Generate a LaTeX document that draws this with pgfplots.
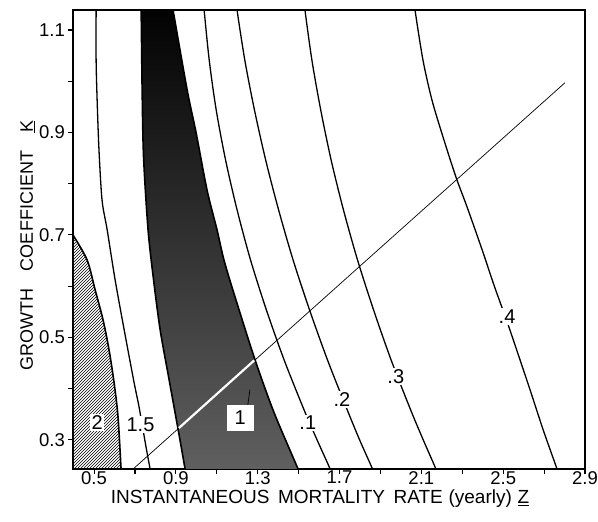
\documentclass[border=0pt]{standalone}
\usepackage{fontspec}
\setmainfont{Liberation Sans}
\usepackage{pgfplots}
\pgfplotsset{compat=1.18}
\usetikzlibrary{patterns}

\pgfplotstableread{
x y
0.725 1.16
0.730 1.139
0.735 0.983
0.742 0.852
0.764 0.710
0.791 0.612
0.823 0.515
0.867 0.417
0.911 0.320
0.945 0.243
0.950 0.23
}\darkleft
\pgfplotstableread{
x y
1.505 0.23
1.497 0.243
1.380 0.353
1.287 0.456
1.189 0.579
1.135 0.651
1.101 0.710
1.052 0.788
0.999 0.899
0.955 0.983
0.886 1.139
0.877 1.16
}\darkright

\begin{document}
\begin{tikzpicture}
\useasboundingbox (-73pt,-53pt) rectangle (525pt,469pt);
\begin{axis}[
  at={(0pt,0pt)}, anchor=south west,
  scale only axis, width=512pt, height=459pt,
  xmin=0.397, xmax=2.9, ymin=0.243, ymax=1.139,
  axis line style={line width=1.4pt},
  tick align=outside, tick pos=left,
  xtick={0.5,0.9,1.3,1.7,2.1,2.5,2.9},
  xticklabels={0.5,0.9,1.3,1.7,2.1,2.5,2.9},
  minor xtick={0.7,1.1,1.5,1.9,2.3,2.7},
  ytick={0.3,0.5,0.7,0.9,1.1},
  yticklabels={0.3,0.5,0.7,0.9,1.1},
  minor ytick={0.4,0.6,0.8,1.0},
  major tick length=5pt, minor tick length=5pt,
  tick style={line width=1.1pt, black},
  tick label style={font=\fontsize{18.5}{19}\selectfont, inner sep=0pt},
  xticklabel style={yshift=3pt},
  yticklabel style={xshift=-3pt},
]
% hatched region "2"
\addplot[draw=none, pattern=north east lines] coordinates {
(0.38,0.712) (0.397,0.700) (0.466,0.651) (0.505,0.593) (0.544,0.534) (0.573,0.476)
(0.598,0.411) (0.617,0.345) (0.632,0.243) (0.634,0.23) (0.38,0.23)} -- cycle;
\addplot[line width=1.6pt, smooth] coordinates {
(0.38,0.712) (0.397,0.700) (0.466,0.651) (0.505,0.593) (0.544,0.534) (0.573,0.476)
(0.598,0.411) (0.617,0.345) (0.632,0.243) (0.634,0.23)};

% dark region "1"
\addplot[draw=none, top color=black, middle color=black!80, bottom color=black!62] coordinates {
(0.725,1.16) (0.730,1.139) (0.735,0.983) (0.742,0.852) (0.764,0.710) (0.791,0.612)
(0.823,0.515) (0.867,0.417) (0.911,0.320) (0.945,0.243) (0.950,0.23)
(1.505,0.23) (1.497,0.243) (1.380,0.353) (1.287,0.456) (1.189,0.579) (1.135,0.651)
(1.101,0.710) (1.052,0.788) (0.999,0.899) (0.955,0.983) (0.886,1.139) (0.877,1.16)} -- cycle;
\addplot[line width=1.6pt, smooth] table {\darkleft};
\addplot[line width=1.6pt, smooth] table {\darkright};

% diagonal line
\addplot[line width=0.7pt] coordinates {(0.691,0.243) (2.802,0.997)};
\addplot[white, line width=2.2pt] coordinates {(0.915,0.323) (1.283,0.455)};
\addplot[line width=0.7pt] coordinates {(1.262,0.398) (1.243,0.343)};

% contour 1.5
\addplot[line width=1.3pt, smooth] coordinates {
(0.510,1.16) (0.510,1.139) (0.510,1.041) (0.515,0.963) (0.524,0.866) (0.539,0.768)
(0.564,0.710) (0.603,0.612) (0.647,0.515) (0.696,0.411) (0.720,0.364)
(0.754,0.286) (0.774,0.243) (0.780,0.23)};
% contour .1
\addplot[line width=1.3pt, smooth] coordinates {
(1.034,1.16) (1.038,1.139) (1.063,1.041) (1.097,0.944) (1.143,0.846) (1.199,0.749)
(1.265,0.651) (1.342,0.554) (1.429,0.456) (1.526,0.359) (1.590,0.300) (1.654,0.243) (1.662,0.23)};
% contour .2
\addplot[line width=1.3pt, smooth] coordinates {
(1.195,1.16) (1.199,1.139) (1.237,1.041) (1.284,0.944) (1.339,0.846) (1.402,0.749)
(1.473,0.651) (1.553,0.554) (1.641,0.456) (1.737,0.359) (1.798,0.300) (1.861,0.243) (1.869,0.23)};
% contour .3
\addplot[line width=1.3pt, smooth] coordinates {
(1.527,1.16) (1.531,1.139) (1.565,1.041) (1.608,0.944) (1.659,0.846) (1.719,0.749)
(1.788,0.651) (1.866,0.554) (1.952,0.456) (2.047,0.359) (2.109,0.300) (2.171,0.243) (2.179,0.23)};
% contour .4
\addplot[line width=1.3pt, smooth] coordinates {
(2.064,1.16) (2.069,1.139) (2.108,1.041) (2.152,0.963) (2.206,0.891) (2.269,0.813)
(2.323,0.755) (2.397,0.671) (2.455,0.602) (2.529,0.519) (2.631,0.398) (2.695,0.320)
(2.763,0.243) (2.770,0.23)};

% labels
\begin{scope}[every node/.style={font=\fontsize{20}{20}\selectfont, fill=white, inner sep=1.5pt}]
\node at (axis cs:0.515,0.333) {2};
\node at (axis cs:0.727,0.330) {1.5};
\node[minimum width=27pt, minimum height=26pt] at (axis cs:1.214,0.343) {1};
\node at (axis cs:1.545,0.333) {.1};
\node at (axis cs:1.712,0.378) {.2};
\node at (axis cs:1.975,0.423) {.3};
\node at (axis cs:2.519,0.540) {.4};
\end{scope}
\end{axis}
\node[anchor=base, font=\fontsize{19}{20}\selectfont] at (247pt,-35pt)
  {INSTANTANEOUS\hspace{0.45em}MORTALITY\hspace{0.45em}RATE\hspace{0.3em}(yearly)\hspace{0.3em}\underline{Z}};
\node[anchor=base, rotate=90, font=\fontsize{18}{18}\selectfont] at (-40pt,223pt)
  {GROWTH\hspace{1.0em}COEFFICIENT\hspace{1.0em}\underline{K}};
\end{tikzpicture}
\end{document}
